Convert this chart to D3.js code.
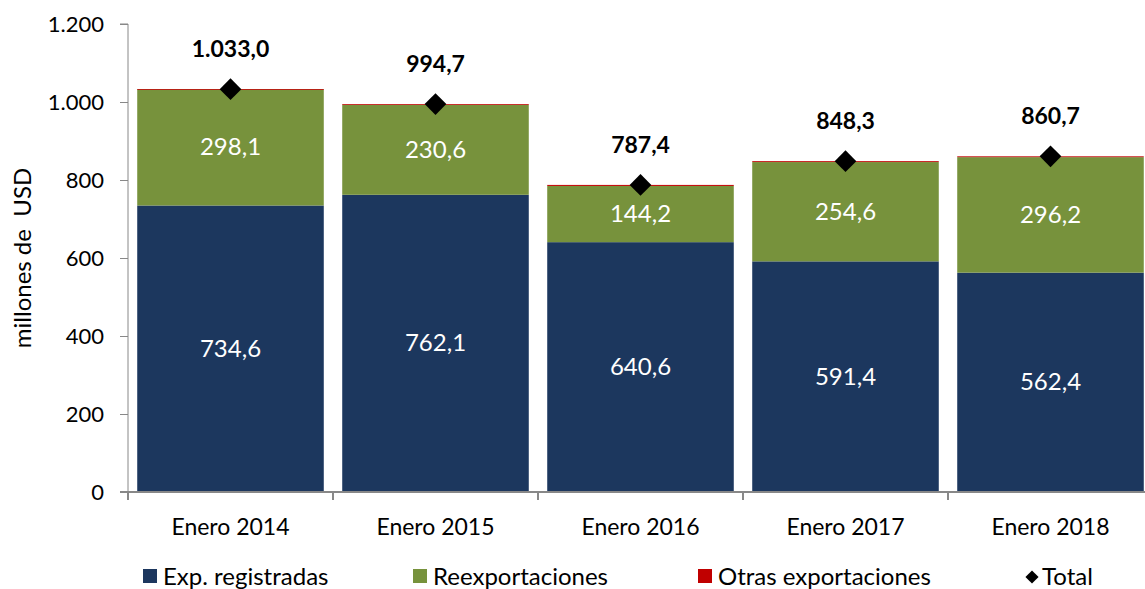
<!DOCTYPE html>
<html>
<head>
<meta charset="utf-8">
<script src="https://cdn.jsdelivr.net/npm/d3@7"></script>
<style>
body { margin: 0; background: #fff; }
text { font-family: Lato, "Open Sans", sans-serif; }
</style>
</head>
<body>
<svg id="chart" width="1145" height="589"></svg>
<script>
var categories = ["Enero 2014", "Enero 2015", "Enero 2016", "Enero 2017", "Enero 2018"];
var expRegistradas = [734.6, 762.1, 640.6, 591.4, 562.4];
var reexportaciones = [298.1, 230.6, 144.2, 254.6, 296.2];
var otras = [0.3, 2.0, 2.6, 2.3, 2.1];
var totals = [1033.0, 994.7, 787.4, 848.3, 860.7];
var yTicks = [0, 200, 400, 600, 800, 1000, 1200];
var seriesNames = ["Exp. registradas", "Reexportaciones", "Otras exportaciones"];
var colors = ["#1c375e", "#77923c", "#c00000"];

var fmt = function (v) {
    var s = d3.format(",.1f")(v);
    return s.replace(/,/g, "#").replace(".", ",").replace(/#/g, ".");
};

var svg = d3.select("#chart");

var x = d3.scaleBand()
    .domain(categories)
    .range([128, 1153])
    .paddingInner(0.09)
    .paddingOuter(0.045);

var y = d3.scaleLinear()
    .domain([0, 1200])
    .range([492, 24]);

var rows = categories.map(function (c, i) {
    return { cat: c, exp: expRegistradas[i], reex: reexportaciones[i], otras: otras[i], total: totals[i] };
});

var stack = d3.stack().keys(["exp", "reex", "otras"]);
var layers = stack(rows);

var g = svg.selectAll("g.layer")
    .data(layers)
    .enter()
    .append("g")
    .attr("class", "layer")
    .attr("fill", function (d, i) { return colors[i]; });

g.selectAll("rect")
    .data(function (d) { return d; })
    .enter()
    .append("rect")
    .attr("x", function (d) { return x(d.data.cat); })
    .attr("width", x.bandwidth())
    .attr("y", function (d) { return y(d[1]); })
    .attr("height", function (d) { return Math.max(y(d[0]) - y(d[1]), 0.8); });

// value labels inside
[0, 1].forEach(function (k) {
    svg.selectAll("text.val" + k)
        .data(layers[k])
        .enter()
        .append("text")
        .attr("x", function (d) { return x(d.data.cat) + x.bandwidth() / 2; })
        .attr("y", function (d) { return (y(d[0]) + y(d[1])) / 2 + 8; })
        .attr("text-anchor", "middle")
        .attr("fill", "#fff")
        .attr("font-size", 24)
        .text(function (d) { return fmt(d[1] - d[0]); });
});

// axes
var yAxis = svg.append("g")
    .attr("transform", "translate(128,0)")
    .call(d3.axisLeft(y).tickValues(yTicks).tickSize(8).tickPadding(16)
        .tickFormat(function (d) { return d3.format(",")(d).replace(/,/g, "."); }));
yAxis.selectAll("text").attr("font-size", 22).attr("fill", "#000").attr("dy", "0.35em");
yAxis.selectAll("line").attr("stroke", "#888");
yAxis.select(".domain").attr("stroke", "#888").attr("d", "M-8,24H0V492H-8");

var xAxis = svg.append("g")
    .attr("transform", "translate(0,492)");
xAxis.append("line")
    .attr("x1", 120).attr("x2", 1145)
    .attr("stroke", "#888").attr("stroke-width", 2);
xAxis.selectAll("line.tick")
    .data(categories)
    .enter()
    .append("line")
    .attr("class", "tick")
    .attr("x1", function (d) { return x(d) - x.step() * x.paddingInner() / 2; })
    .attr("x2", function (d) { return x(d) - x.step() * x.paddingInner() / 2; })
    .attr("y1", 0).attr("y2", 8)
    .attr("stroke", "#888").attr("stroke-width", 2);
xAxis.selectAll("text")
    .data(categories)
    .enter()
    .append("text")
    .attr("x", function (d) { return x(d) + x.bandwidth() / 2; })
    .attr("y", 43)
    .attr("text-anchor", "middle")
    .attr("font-size", 23)
    .attr("fill", "#000")
    .text(function (d) { return d; });

svg.append("text")
    .attr("transform", "translate(31,258) rotate(-90)")
    .attr("text-anchor", "middle")
    .attr("font-size", 24)
    .attr("fill", "#000")
    .attr("xml:space", "preserve")
    .text("millones de  USD");

// totals
var diamond = d3.symbol().type(d3.symbolDiamond2).size(300);
svg.selectAll("path.total")
    .data(rows)
    .enter()
    .append("path")
    .attr("class", "total")
    .attr("d", diamond)
    .attr("fill", "#000")
    .attr("transform", function (d) {
        return "translate(" + (x(d.cat) + x.bandwidth() / 2) + "," + y(d.total) + ")";
    });
svg.selectAll("text.totlab")
    .data(rows)
    .enter()
    .append("text")
    .attr("class", "totlab")
    .attr("x", function (d) { return x(d.cat) + x.bandwidth() / 2; })
    .attr("y", function (d) { return y(d.total) - 32; })
    .attr("text-anchor", "middle")
    .attr("font-size", 23)
    .attr("font-weight", "bold")
    .attr("fill", "#000")
    .text(function (d) { return fmt(d.total); });

// legend
var legendX = [143, 413, 698];
var leg = svg.selectAll("g.leg")
    .data(seriesNames)
    .enter()
    .append("g")
    .attr("class", "leg")
    .attr("transform", function (d, i) { return "translate(" + legendX[i] + ",569)"; });
leg.append("rect")
    .attr("width", 14).attr("height", 14)
    .attr("fill", function (d, i) { return colors[i]; });
leg.append("text")
    .attr("x", 20).attr("y", 16)
    .attr("font-size", 24)
    .attr("fill", "#000")
    .text(function (d) { return d; });

var tl = svg.append("g").attr("transform", "translate(1032,577)");
tl.append("path").attr("d", d3.symbol().type(d3.symbolDiamond2).size(110)).attr("fill", "#000");
tl.append("text").attr("x", 10).attr("y", 8).attr("font-size", 24).attr("fill", "#000").text("Total");
</script>
</body>
</html>
